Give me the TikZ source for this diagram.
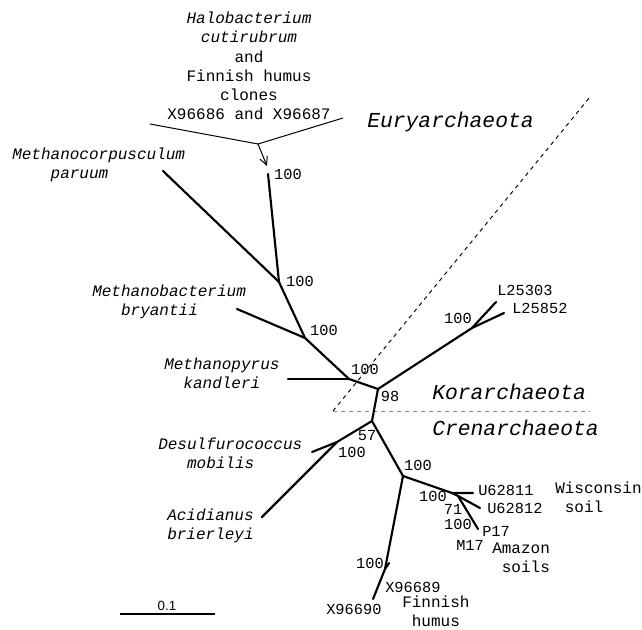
\documentclass[tikz,border=0pt]{standalone}
\usepackage{fontspec}
\setmainfont{Liberation Mono}
\newfontfamily\sansf{Liberation Sans}
\usetikzlibrary{arrows.meta}
\begin{document}
\begin{tikzpicture}[x=0.75pt,y=-0.75pt,
  br/.style={line width=1.6pt, line cap=round, line join=round},
  num/.style={font=\fontsize{11.5}{13}\selectfont, inner sep=0pt},
  acc/.style={font=\fontsize{11.5}{13}\selectfont, inner sep=0pt, anchor=west},
  sp/.style={font=\fontsize{12}{14.4}\selectfont\itshape, inner sep=0pt, anchor=west, align=left},
  grp/.style={font=\fontsize{12}{14.4}\selectfont, inner sep=0pt, anchor=west, align=left},
  clade/.style={font=\fontsize{16}{19}\selectfont\itshape, inner sep=0pt, anchor=west},
  thinln/.style={line width=0.75pt},
  dsh/.style={line width=0.7pt, dash pattern=on 3pt off 3pt}]
\useasboundingbox (0,0) rectangle (642,630);

% tree points
\coordinate (tH) at (268,174);
\coordinate (nA) at (279,282);
\coordinate (tMc) at (163,171);
\coordinate (nB) at (305,338);
\coordinate (tMb) at (237,309);
\coordinate (nC) at (349,379);
\coordinate (tMp) at (288,379);
\coordinate (nD) at (378,389);
\coordinate (nE) at (472,328);
\coordinate (tL1) at (496,302);
\coordinate (tL2) at (504,313);
\coordinate (nF) at (372,421);
\coordinate (nH) at (337,442);
\coordinate (tDs) at (312,452);
\coordinate (tAc) at (262,517);
\coordinate (nG) at (403,476);
\coordinate (nI) at (452,493);
\coordinate (tU1) at (473,493);
\coordinate (nJ) at (458,496);
\coordinate (tU2) at (480,508);
\coordinate (tP) at (478,529);
\coordinate (nK) at (385,569);
\coordinate (tX89) at (389,563);
\coordinate (tX90) at (373,599);

% dashed separators
\coordinate (dC) at (333,411);
\coordinate (dT) at (590,97);
\coordinate (dR) at (590,411);
\draw[dsh] (dC) -- (dT);
\draw[dsh, gray] (dC) -- (dR);

% branches
\draw[br] (tH) -- (nA) -- (nB) -- (nC) -- (nD) -- (nF) -- (nG) -- (nI) -- (tU1);
\draw[br] (tMc) -- (nA);
\draw[br] (tMb) -- (nB);
\draw[br] (tMp) -- (nC);
\draw[br] (nD) -- (nE) -- (tL1);
\draw[br] (nE) -- (tL2);
\draw[br] (nF) -- (nH) -- (tAc);
\draw[br] (tDs) -- (nH);
\draw[br] (nI) -- (nJ) -- (tU2);
\draw[br] (nJ) -- (tP);
\draw[br] (nG) -- (nK) -- (tX90);
\draw[br] (nK) -- (tX89);

% Halobacterium label and pointer
\node[font=\fontsize{12}{14.4}\selectfont, inner sep=0pt, align=center] (halo) at (249,66)
  {\textit{Halobacterium}\\\textit{cutirubrum}\\and\\Finnish humus\\clones\\X96686 and X96687};
\coordinate (hl) at (150,124);
\coordinate (hr) at (343,118);
\coordinate (hm) at (258,144);
\coordinate (ha) at (267,166);
\draw[thinln] (hl) -- (hm) -- (hr);
\draw[thinln, -{Straight Barb[length=6pt,width=6pt]}] (hm) -- (ha);

% species labels
\node[sp] (mc) at (12,165) {Methanocorpusculum\\\phantom{xxxx}paruum};
\node[sp] (mb) at (92,301.5) {Methanobacterium\\\phantom{xxx}bryantii};
\node[sp] (mp) at (164,373) {Methanopyrus\\\phantom{xx}kandleri};
\node[sp] (ds) at (158,453.5) {Desulfurococcus\\\phantom{xxx}mobilis};
\node[sp] (ac) at (167,525.5) {Acidianus\\brierleyi};

% clade labels
\node[clade] (eury) at (367,122) {Euryarchaeota};
\node[clade] (kor) at (432,392) {Korarchaeota};
\node[clade] (cren) at (432,428) {Crenarchaeota};

% bootstrap values
\node[num] (b1) at (288,174) {100};
\node[num] (b2) at (300,281) {100};
\node[num] (b3) at (324,330) {100};
\node[num] (b4) at (365,369) {100};
\node[num] (b5) at (390,396) {98};
\node[num] (b6) at (458,318) {100};
\node[num] (b7) at (367,436) {57};
\node[num] (b8) at (352,452) {100};
\node[num] (b9) at (418,465) {100};
\node[num] (b10) at (433,496) {100};
\node[num] (b11) at (453,509) {71};
\node[num] (b12) at (458,524) {100};
\node[num] (b13) at (370,563) {100};

% accession labels
\node[acc] (l1) at (497,290) {L25303};
\node[acc] (l2) at (512,308) {L25852};
\node[acc] (u1) at (478,490) {U62811};
\node[acc] (u2) at (487,508) {U62812};
\node[acc] (p17) at (482,531) {P17};
\node[acc] (m17) at (456,545) {M17};
\node[acc] (x89) at (385,587) {X96689};
\node[acc] (x90) at (326,609) {X96690};

% group labels
\node[grp] (wis) at (555,497.5) {Wisconsin\\\phantom{x}soil};
\node[grp] (ama) at (492,558) {Amazon\\\phantom{x}soils};
\node[grp] (fin) at (402,611) {Finnish\\\phantom{x}humus};

% scale bar
\coordinate (s1) at (120,614);
\coordinate (s2) at (215,614);
\draw[line width=1.1pt] (s1) -- (s2);
\node[font=\sansf\fontsize{10}{12}\selectfont, inner sep=0pt] (sc) at (167,606) {0.1};
\end{tikzpicture}
\end{document}
